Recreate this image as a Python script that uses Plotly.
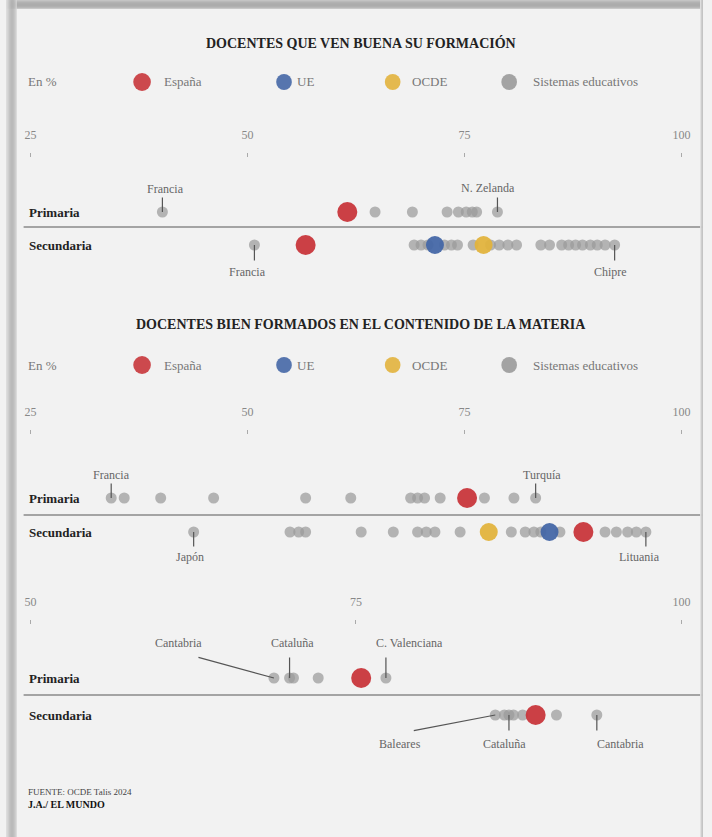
import plotly.graph_objects as go

W, H = 712, 837
def X(px): return px / W
def Y(py): return 1 - py / H

FONT = "Liberation Serif"
ROWS = ["Primaria", "Secundaria"]

C_ES, C_UE, C_OCDE, C_SIS = "#c8363b", "#4567a6", "#e2b33d", "#9a9a9a"

# ---------------- data ----------------
p1_title = "DOCENTES QUE VEN BUENA SU FORMACIÓN"
p1_ticks = [25, 50, 75, 100]
p1_sis_prim = [40.2, 64.7, 69.0, 73.0, 74.3, 75.2, 75.9, 76.4, 78.8]
p1_sis_sec = [50.8, 69.2, 70.0, 70.8, 72.7, 73.5, 74.2, 76.0, 78.0, 79.0, 80.0,
              81.0, 83.8, 84.8, 86.2, 87.0, 87.8, 88.6, 89.5, 90.3, 91.2, 92.3]
p1_es = {"Primaria": 61.5, "Secundaria": 56.7}
p1_ue = {"Secundaria": 71.6}
p1_ocde = {"Secundaria": 77.2}
p1_labels = [("Francia", 40.2, "Primaria"), ("N. Zelanda", 78.8, "Primaria"),
             ("Francia", 50.8, "Secundaria"), ("Chipre", 92.3, "Secundaria")]

p2_title = "DOCENTES BIEN FORMADOS EN EL CONTENIDO DE LA MATERIA"
p2_ticks = [25, 50, 75, 100]
p2_sis_prim = [34.3, 35.8, 40.0, 46.1, 56.7, 61.9, 68.8, 69.6, 70.4, 72.2,
               77.3, 80.7, 83.2]
p2_sis_sec = [43.8, 54.9, 55.9, 56.7, 63.1, 66.8, 69.6, 70.6, 71.6, 74.5, 80.4,
              82.0, 83.0, 83.8, 86.0, 91.2, 92.5, 93.8, 94.8, 95.9]
p2_es = {"Primaria": 75.3, "Secundaria": 88.7}
p2_ue = {"Secundaria": 84.8}
p2_ocde = {"Secundaria": 77.8}
p2_labels = [("Francia", 34.3, "Primaria"), ("Turquía", 83.2, "Primaria"),
             ("Japón", 43.8, "Secundaria"), ("Lituania", 95.9, "Secundaria")]

p3_ticks = [50, 75, 100]
p3_sis_prim = [68.7, 69.9, 70.2, 72.1, 77.3]
p3_sis_sec = [85.7, 86.4, 86.75, 87.1, 87.8, 90.4, 93.5]
p3_es = {"Primaria": 75.4, "Secundaria": 88.8}
p3_labels = [("Cantabria", 68.7, "Primaria"), ("Cataluña", 69.9, "Primaria"),
             ("C. Valenciana", 77.3, "Primaria"), ("Baleares", 85.7, "Secundaria"),
             ("Cataluña", 86.75, "Secundaria"), ("Cantabria", 93.5, "Secundaria")]

legend_items = ["España", "UE", "OCDE", "Sistemas educativos"]
source = "FUENTE: OCDE Talis 2024"
credit = "J.A./ EL MUNDO"

# ---------------- layout helpers (pixel placement) ----------------
# per label: (tail dx, tail dy, text dx, text dy) in px relative to point
p1_off = [(0, -16, 3, -23), (0, -16, -9, -24), (0, 17, -7, 27), (0, 17, -4, 27)]
p2_off = [(0, -16, 0, -23), (0, -16, 6, -23), (0, 16, -4, 25), (0, 16, -6, 25)]
p3_off = [(-77, -21, -95, -35), (0, -22, 3, -35), (0, -22, 24, -35),
          (-83, 16, -95, 29), (0, 17, -4, 29), (0, 17, 24, 29)]

panels = [
    dict(n="", ticks=p1_ticks, rng=[25, 100], prim=p1_sis_prim, sec=p1_sis_sec,
         es=p1_es, ue=p1_ue, ocde=p1_ocde, labels=p1_labels, off=p1_off,
         axis_py=157, rowP=212, rowS=245, sep=227),
    dict(n="2", ticks=p2_ticks, rng=[25, 100], prim=p2_sis_prim, sec=p2_sis_sec,
         es=p2_es, ue=p2_ue, ocde=p2_ocde, labels=p2_labels, off=p2_off,
         axis_py=434, rowP=498, rowS=532, sep=515),
    dict(n="3", ticks=p3_ticks, rng=[50, 100], prim=p3_sis_prim, sec=p3_sis_sec,
         es=p3_es, ue={}, ocde={}, labels=p3_labels, off=p3_off,
         axis_py=624, rowP=678, rowS=715, sep=695),
]

fig = go.Figure()
annotations = []
shapes = []

for p in panels:
    xa, ya = "x" + p["n"], "y" + p["n"]
    def add(vals, rows, color, size, opacity=1.0):
        fig.add_trace(go.Scatter(
            x=vals, y=rows, xaxis=xa, yaxis=ya, mode="markers", showlegend=False,
            hoverinfo="skip",
            marker=dict(color=color, size=size, opacity=opacity, line=dict(width=0))))
    add(p["prim"], ["Primaria"] * len(p["prim"]), C_SIS, 11, 0.72)
    add(p["sec"], ["Secundaria"] * len(p["sec"]), C_SIS, 11, 0.72)
    for d, c in ((p["ue"], C_UE), (p["ocde"], C_OCDE)):
        if d:
            add(list(d.values()), list(d.keys()), c, 18, 0.95)
    add(list(p["es"].values()), list(p["es"].keys()), C_ES, 20, 0.95)

    for (txt, v, row), (tdx, tdy, xdx, xdy) in zip(p["labels"], p["off"]):
        annotations.append(dict(xref=xa, yref=ya, x=v, y=row, text="",
                                showarrow=True, arrowhead=0, arrowwidth=1.2,
                                arrowcolor="#555", ax=tdx, ay=tdy, standoff=0))
        annotations.append(dict(xref=xa, yref=ya, x=v, y=row, text=txt,
                                showarrow=False, xshift=xdx, yshift=-xdy,
                                xanchor="center", yanchor="middle",
                                font=dict(family=FONT, size=12, color="#666")))
    # row labels
    for row in ROWS:
        annotations.append(dict(xref="paper", yref=ya, x=X(21), y=row,
                                xanchor="left", yanchor="middle", text=row,
                                showarrow=False,
                                font=dict(family=FONT, size=13, color="#222",
                                          weight="bold")))

    unit = p["rowS"] - p["rowP"]
    top, bot = p["rowP"] - unit / 2, p["rowS"] + unit / 2
    fig.layout["xaxis" + p["n"]] = dict(
        domain=[X(25), X(690)], range=p["rng"], anchor="free",
        position=Y(p["axis_py"]), side="top", tickvals=p["ticks"],
        ticks="outside", ticklen=4, tickwidth=1, tickcolor="#aaa",
        ticklabelstandoff=9, showgrid=False, zeroline=False, showline=False,
        tickfont=dict(family=FONT, size=12, color="#888"))
    fig.layout["yaxis" + p["n"]] = dict(
        domain=[Y(bot), Y(top)], type="category", categoryarray=ROWS,
        range=[1.5, -0.5], anchor="free", position=X(20), showticklabels=False,
        ticks="", showgrid=False, zeroline=False, showline=False)
    shapes.append(dict(type="line", xref="paper", yref="paper",
                       x0=X(18), x1=1, y0=Y(p["sep"]), y1=Y(p["sep"]),
                       line=dict(color="#8a8a8a", width=1.5), layer="below"))

# titles
for t, py in ((p1_title, 43), (p2_title, 324)):
    annotations.append(dict(xref="paper", yref="paper", x=X(363), y=Y(py),
                            xanchor="center", yanchor="middle",
                            text=t, showarrow=False,
                            font=dict(family=FONT, size=14, color="#222",
                                      weight="bold")))

# legends
leg_cols = [C_ES, C_UE, C_OCDE, C_SIS]
leg_dot = [139, 284, 395, 514]
leg_d = [18, 16, 16, 16]
leg_txt = [159, 295, 413, 536]
for py in (82, 365):
    annotations.append(dict(xref="paper", yref="paper", x=X(20), y=Y(py),
                            xanchor="left", yanchor="middle", text="En %",
                            showarrow=False,
                            font=dict(family=FONT, size=13, color="#777")))
    for name, col, cx, d, tx in zip(legend_items, leg_cols, leg_dot, leg_d, leg_txt):
        shapes.append(dict(type="circle", xref="paper", yref="paper",
                           x0=X(cx - d / 2), x1=X(cx + d / 2),
                           y0=Y(py + d / 2), y1=Y(py - d / 2),
                           fillcolor=col, line=dict(width=0), opacity=0.9))
        annotations.append(dict(xref="paper", yref="paper", x=X(tx), y=Y(py),
                                xanchor="left", yanchor="middle", text=name,
                                showarrow=False,
                                font=dict(family=FONT, size=13, color="#777")))

# footer
annotations.append(dict(xref="paper", yref="paper", x=X(20), y=Y(792),
                        xanchor="left", yanchor="middle", text=source,
                        showarrow=False,
                        font=dict(family=FONT, size=9, color="#444")))
annotations.append(dict(xref="paper", yref="paper", x=X(20), y=Y(804),
                        xanchor="left", yanchor="middle", text=credit,
                        showarrow=False,
                        font=dict(family=FONT, size=10, color="#111",
                                  weight="bold")))

# frame shadow
top_cols = [196, 186, 178, 174, 172, 172, 176, 184, 200]
for i, g in enumerate(top_cols):
    shapes.append(dict(type="rect", xref="paper", yref="paper", x0=0, x1=1,
                       y0=Y(i + 1), y1=Y(i), fillcolor=f"rgb({g},{g},{g})",
                       line=dict(width=0), layer="below"))
left_cols = [222, 214, 204, 194, 186, 180, 178, 180, 186, 196, 212]
for i, g in enumerate(left_cols):
    shapes.append(dict(type="rect", xref="paper", yref="paper", x0=X(i),
                       x1=X(i + 1), y0=0, y1=1, fillcolor=f"rgb({g},{g},{g})",
                       line=dict(width=0), layer="below"))
for i, g in enumerate([225, 205, 195]):
    shapes.append(dict(type="rect", xref="paper", yref="paper", x0=X(709 + i),
                       x1=X(710 + i), y0=0, y1=1, fillcolor=f"rgb({g},{g},{g})",
                       line=dict(width=0), layer="below"))

fig.update_layout(width=W, height=H, margin=dict(l=0, r=0, t=0, b=0),
                  paper_bgcolor="#f2f2f2", plot_bgcolor="rgba(0,0,0,0)",
                  showlegend=False, annotations=annotations, shapes=shapes,
                  font=dict(family=FONT))
fig.write_html("out.html", config={"displayModeBar": False},
               post_script="document.body.style.margin='0';"
                           "document.documentElement.style.margin='0';"
                           "document.body.style.overflow='hidden';")
